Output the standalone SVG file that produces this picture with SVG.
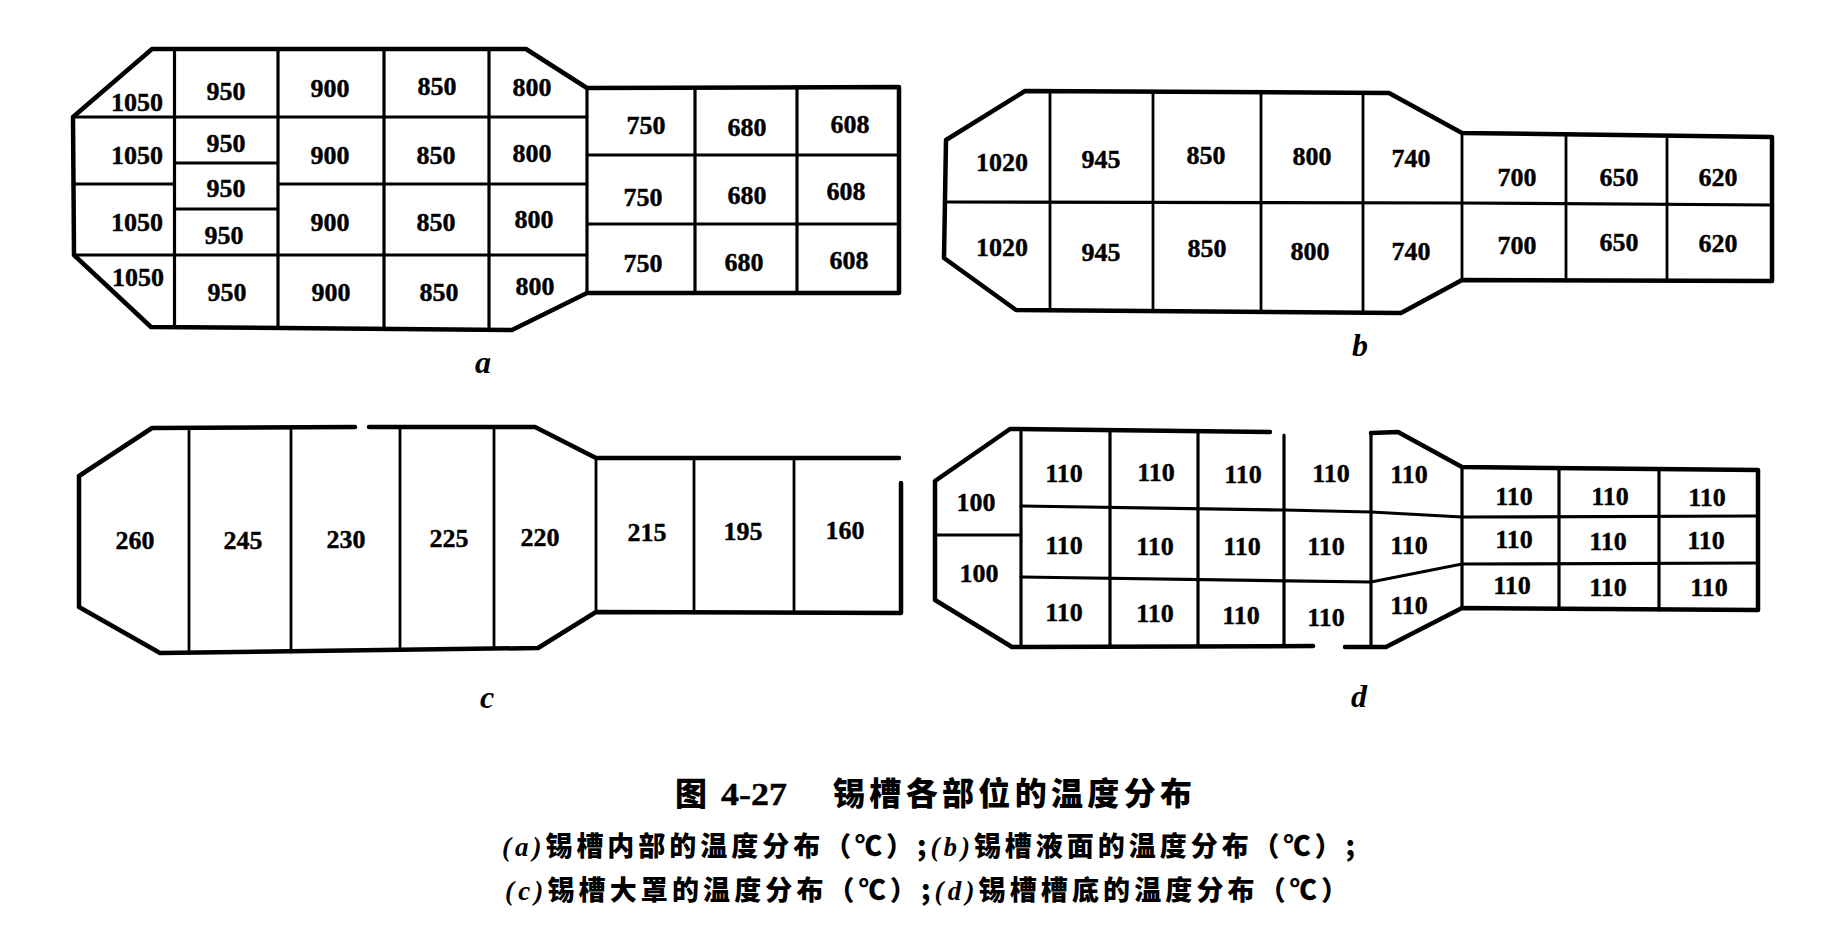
<svg xmlns="http://www.w3.org/2000/svg" width="1824" height="940" viewBox="0 0 1824 940">
<style>
.ol{fill:none;stroke:#000;stroke-width:4.5;stroke-linejoin:round;stroke-linecap:round}
.ln{fill:none;stroke:#000;stroke-width:3.2;stroke-linecap:round}
.tn{fill:none;stroke:#000;stroke-width:2.8;stroke-linecap:round}
.n{font-family:"Liberation Serif","DejaVu Serif",serif;font-weight:bold;font-size:26px;text-anchor:middle;fill:#000;stroke:#000;stroke-width:0.4}
.lb{font-family:"Liberation Serif","DejaVu Serif",serif;font-weight:bold;font-style:italic;font-size:32px;text-anchor:middle;fill:#000}
.cap{font-family:"Noto Sans CJK SC","Noto Sans CJK TC",sans-serif;font-weight:900;fill:#000}
.it{font-family:"Liberation Serif",serif;font-style:italic;font-weight:bold}
</style>
<rect width="1824" height="940" fill="#fff"/>

<g id="panel-a">
<g id="a-lines">
<path class="ol" d="M152 49 L526 49 L587 88 L899 87 L899 293 L587 293 L512 330 L151 327 L74 255 L73 117 Z"/>
<path class="ln" d="M174.5 49 V327 M278 49 V327 M384 49 V327 M489 49 V327 M587 88 V293 M73 117 H587 M73 184 H174.5 M278 184 H587 M174.5 163 H278 M174.5 209 H278 M74 255 H587 M695 88 V293 M797 88 V293 M587 155 H899 M587 224 H899"/>
</g>
<g id="a-values">
<text class="n" x="137" y="111">1050</text><text class="n" x="226" y="100">950</text><text class="n" x="330" y="97">900</text><text class="n" x="437" y="95">850</text><text class="n" x="532" y="96">800</text>
<text class="n" x="137" y="164">1050</text><text class="n" x="226" y="152">950</text><text class="n" x="330" y="164">900</text><text class="n" x="436" y="164">850</text><text class="n" x="532" y="162">800</text>
<text class="n" x="226" y="197">950</text>
<text class="n" x="137" y="231">1050</text><text class="n" x="224" y="244">950</text><text class="n" x="330" y="231">900</text><text class="n" x="436" y="231">850</text><text class="n" x="534" y="228">800</text>
<text class="n" x="138" y="286">1050</text><text class="n" x="227" y="301">950</text><text class="n" x="331" y="301">900</text><text class="n" x="439" y="301">850</text><text class="n" x="535" y="295">800</text>
<text class="n" x="646" y="134">750</text><text class="n" x="747" y="136">680</text><text class="n" x="850" y="133">608</text>
<text class="n" x="643" y="206">750</text><text class="n" x="747" y="204">680</text><text class="n" x="846" y="200">608</text>
<text class="n" x="643" y="272">750</text><text class="n" x="744" y="271">680</text><text class="n" x="849" y="269">608</text>
</g>
<text class="lb" x="483" y="373">a</text>
</g>

<g id="panel-b">
<g id="b-lines">
<path class="ol" d="M1025 91 L1389 93 L1462 133 L1772 137 L1772 281 L1462 280 L1401 313 L1016 310 L944 258 L946 140 Z"/>
<path class="tn" d="M1050 91 V310 M1153 92 V311 M1261 92 V312 M1363 93 V313 M1462 133 V280 M1566 135 V281 M1667 136 V281"/>
<path class="ln" d="M946 202 L1462 203 L1772 205"/>
</g>
<g id="b-values">
<text class="n" x="1002" y="171">1020</text><text class="n" x="1101" y="168">945</text><text class="n" x="1206" y="164">850</text><text class="n" x="1312" y="165">800</text><text class="n" x="1411" y="167">740</text>
<text class="n" x="1517" y="186">700</text><text class="n" x="1619" y="186">650</text><text class="n" x="1718" y="186">620</text>
<text class="n" x="1002" y="256">1020</text><text class="n" x="1101" y="261">945</text><text class="n" x="1207" y="257">850</text><text class="n" x="1310" y="260">800</text><text class="n" x="1411" y="260">740</text>
<text class="n" x="1517" y="254">700</text><text class="n" x="1619" y="251">650</text><text class="n" x="1718" y="252">620</text>
</g>
<text class="lb" x="1360" y="356">b</text>
</g>

<g id="panel-c">
<g id="c-lines">
<path class="ol" d="M899 458 L596 458 L535 427 L369 427 M355 427 L152 428 L79 476 L79 607 L160 653 L538 648 L596 612 L901 613 L901 483"/>
<path class="tn" d="M189 428 V653 M291 428 V652 M400 427 V650 M494 427 V648 M596 458 V612 M694 458 V613 M794 458 V613"/>
</g>
<g id="c-values">
<text class="n" x="135" y="549">260</text><text class="n" x="243" y="549">245</text><text class="n" x="346" y="548">230</text><text class="n" x="449" y="547">225</text><text class="n" x="540" y="546">220</text>
<text class="n" x="647" y="541">215</text><text class="n" x="743" y="540">195</text><text class="n" x="845" y="539">160</text>
</g>
<text class="lb" x="487" y="708">c</text>
</g>

<g id="panel-d">
<g id="d-lines">
<path class="ol" d="M1270 432 L1010 429 L935 481 L935 600 L1012 647 L1313 646 M1345 647 L1386 647 L1462 608 L1758 610 L1758 470 L1462 467 L1398 432 L1371 433"/>
<path class="ln" d="M1021 432 V646 M1110 432 V646 M1198 433 V646 M1284 435 V646 M1371 433 V647 M1462 467 V608 M1559 468 V609 M1659 469 V610 M935 535 H1021"/>
<path class="ln" d="M1021 506 L1284 510 L1371 512 L1462 517 L1758 516 M1021 577 L1371 582 L1462 564 L1758 563"/>
</g>
<g id="d-values">
<text class="n" x="976" y="511">100</text><text class="n" x="979" y="582">100</text>
<text class="n" x="1064" y="482">110</text><text class="n" x="1156" y="481">110</text><text class="n" x="1243" y="483">110</text><text class="n" x="1331" y="482">110</text><text class="n" x="1409" y="483">110</text>
<text class="n" x="1064" y="554">110</text><text class="n" x="1155" y="555">110</text><text class="n" x="1242" y="555">110</text><text class="n" x="1326" y="555">110</text><text class="n" x="1409" y="554">110</text>
<text class="n" x="1064" y="621">110</text><text class="n" x="1155" y="622">110</text><text class="n" x="1241" y="624">110</text><text class="n" x="1326" y="626">110</text><text class="n" x="1409" y="614">110</text>
<text class="n" x="1514" y="505">110</text><text class="n" x="1610" y="505">110</text><text class="n" x="1707" y="506">110</text>
<text class="n" x="1514" y="548">110</text><text class="n" x="1608" y="550">110</text><text class="n" x="1706" y="549">110</text>
<text class="n" x="1512" y="594">110</text><text class="n" x="1608" y="596">110</text><text class="n" x="1709" y="596">110</text>
</g>
<text class="lb" x="1359" y="707">d</text>
</g>

<g id="caption">
<text class="cap" x="675" y="805" font-size="32">图</text>
<text class="n" x="721" y="805" style="text-anchor:start;font-size:32px" textLength="66" lengthAdjust="spacingAndGlyphs">4-27</text>
<text class="cap" x="833" y="805" font-size="32" textLength="359" lengthAdjust="spacing">锡槽各部位的温度分布</text>
<text class="cap" x="502" y="856" font-size="27" textLength="853" lengthAdjust="spacing"><tspan class="it">(a)</tspan>锡槽内部的温度分布（℃）;<tspan class="it">(b)</tspan>锡槽液面的温度分布（℃）;</text>
<text class="cap" x="505" y="900" font-size="27" textLength="843" lengthAdjust="spacing"><tspan class="it">(c)</tspan>锡槽大罩的温度分布（℃）;<tspan class="it">(d)</tspan>锡槽槽底的温度分布（℃）</text>
</g>
</svg>
